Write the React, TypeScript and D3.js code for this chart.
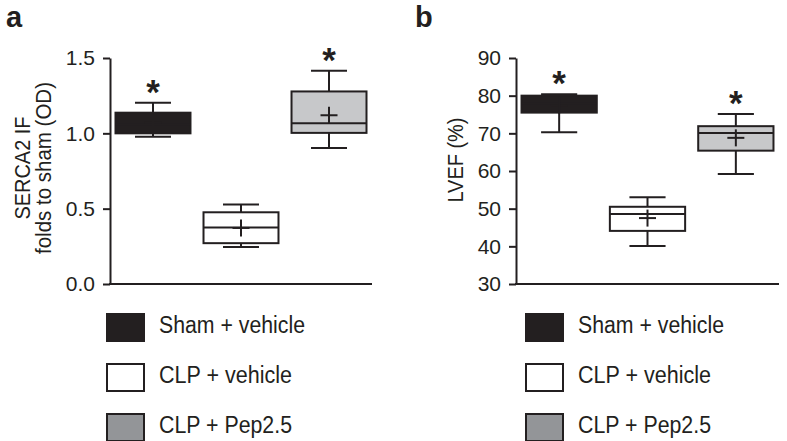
import React, { useEffect, useRef } from "react";
import * as d3 from "d3";

const groups = ["Sham + vehicle", "CLP + vehicle", "CLP + Pep2.5"];
const legendWidths = [146, 133, 133];
const significant = [true, false, true];

// Panel a: SERCA2 IF folds to sham (OD)
const sercaLow = [0.978, 0.245, 0.902];
const sercaQ1 = [1.0, 0.271, 1.003];
const sercaMedian = [1.06, 0.375, 1.067];
const sercaQ3 = [1.137, 0.476, 1.278];
const sercaHigh = [1.203, 0.527, 1.415];
const sercaMean = [1.07, 0.372, 1.12];
const sercaTicks = [0, 0.5, 1.0, 1.5];

// Panel b: LVEF (%)
const lvefLow = [70.3, 40.1, 59.2];
const lvefQ1 = [75.5, 44.1, 65.4];
const lvefMedian = [78, 48.6, 70.1];
const lvefQ3 = [80, 50.5, 71.9];
const lvefHigh = [80.4, 53.0, 75.1];
const lvefMean = [77.5, 47.5, 68.8];
const lvefTicks = [30, 40, 50, 60, 70, 80, 90];

const INK = "#231f20";
const boxFills = [INK, "#ffffff", "#c7c8ca"];
const legendFills = [INK, "#ffffff", "#939598"];
const FONT = "'Liberation Sans', Arial, Helvetica, sans-serif";

type PanelProps = {
  x0: number;
  x1: number;
  domain: [number, number];
  ticks: number[];
  fmt: (v: number) => string;
  low: number[];
  q1: number[];
  med: number[];
  q3: number[];
  high: number[];
  mean: number[];
};

const Y_TOP = 58;
const Y_BOTTOM = 284;

function Panel(p: PanelProps) {
  const axisRef = useRef<SVGGElement>(null);
  const y = d3.scaleLinear().domain(p.domain).range([Y_BOTTOM, Y_TOP]);
  const x = d3
    .scaleBand<string>()
    .domain(groups)
    .range([p.x0, p.x1])
    .paddingInner(0.148)
    .paddingOuter(0.0625);

  useEffect(() => {
    if (!axisRef.current) return;
    const g = d3.select(axisRef.current);
    g.selectAll("*").remove();
    const ax = d3
      .axisLeft(y)
      .tickValues(p.ticks)
      .tickFormat((d) => p.fmt(d as number))
      .tickSize(7)
      .tickSizeOuter(0)
      .tickPadding(8);
    g.call(ax as any);
    g.select(".domain").attr("stroke", INK).attr("stroke-width", 2);
    g.selectAll(".tick line").attr("stroke", INK).attr("stroke-width", 2);
    g.selectAll(".tick text")
      .attr("fill", INK)
      .attr("font-size", 21)
      .attr("font-family", FONT);
  }, []);

  const bw = x.bandwidth();
  const capW = bw * 0.48;
  const plus = 8.5;
  const astSize = 35;

  return (
    <g>
      <g ref={axisRef} transform={`translate(${p.x0},0)`} />
      <line
        x1={p.x0 - 1}
        x2={p.x1}
        y1={Y_BOTTOM}
        y2={Y_BOTTOM}
        stroke={INK}
        strokeWidth={2}
      />
      {groups.map((gname, i) => {
        const bx = x(gname) as number;
        const cx = bx + bw / 2;
        return (
          <g key={gname}>
            <line x1={cx} x2={cx} y1={y(p.high[i])} y2={y(p.q3[i])} stroke={INK} strokeWidth={2} />
            <line x1={cx} x2={cx} y1={y(p.q1[i])} y2={y(p.low[i])} stroke={INK} strokeWidth={2} />
            <line x1={cx - capW / 2} x2={cx + capW / 2} y1={y(p.high[i])} y2={y(p.high[i])} stroke={INK} strokeWidth={2} />
            <line x1={cx - capW / 2} x2={cx + capW / 2} y1={y(p.low[i])} y2={y(p.low[i])} stroke={INK} strokeWidth={2} />
            <rect
              x={bx}
              y={y(p.q3[i])}
              width={bw}
              height={y(p.q1[i]) - y(p.q3[i])}
              fill={boxFills[i]}
              stroke={INK}
              strokeWidth={2}
            />
            <line x1={bx} x2={bx + bw} y1={y(p.med[i])} y2={y(p.med[i])} stroke={INK} strokeWidth={2} />
            <line x1={cx - plus} x2={cx + plus} y1={y(p.mean[i])} y2={y(p.mean[i])} stroke={INK} strokeWidth={2} />
            <line x1={cx} x2={cx} y1={y(p.mean[i]) - plus} y2={y(p.mean[i]) + plus} stroke={INK} strokeWidth={2} />
            {significant[i] && (
              <text
                x={cx}
                y={y(p.high[i]) - 18 + astSize * 0.55}
                textAnchor="middle"
                fontSize={astSize}
                fontWeight="bold"
                fontFamily={FONT}
                fill={INK}
              >
                *
              </text>
            )}
          </g>
        );
      })}
    </g>
  );
}

function Legend({ sx, tx }: { sx: number; tx: number }) {
  const rowTops = [314, 364, 414];
  return (
    <g>
      {groups.map((gname, i) => (
        <g key={gname}>
          <rect
            x={sx}
            y={rowTops[i]}
            width={37}
            height={27}
            fill={legendFills[i]}
            stroke={INK}
            strokeWidth={2}
          />
          <text
            x={tx}
            y={rowTops[i] + 19}
            fontSize={23}
            fontFamily={FONT}
            fill={INK}
            textLength={legendWidths[i]}
            lengthAdjust="spacingAndGlyphs"
          >
            {gname}
          </text>
        </g>
      ))}
    </g>
  );
}

export default function App() {
  return (
    <svg
      width={787}
      height={441}
      style={{ position: "absolute", left: 0, top: 0, background: "#fff" }}
    >
      <rect width={787} height={441} fill="#fff" />
      <text x={6} y={26.5} fontSize={29} fontWeight="bold" fontFamily={FONT} fill={INK}>
        a
      </text>
      <text x={415} y={26.5} fontSize={29} fontWeight="bold" fontFamily={FONT} fill={INK}>
        b
      </text>

      <text
        transform="translate(30,168) rotate(-90)"
        textAnchor="middle"
        fontSize={21.5}
        fontFamily={FONT}
        fill={INK}
        textLength={103}
        lengthAdjust="spacingAndGlyphs"
      >
        SERCA2 IF
      </text>
      <text
        transform="translate(50.5,168) rotate(-90)"
        textAnchor="middle"
        fontSize={21.5}
        fontFamily={FONT}
        fill={INK}
        textLength={172}
        lengthAdjust="spacingAndGlyphs"
      >
        folds to sham (OD)
      </text>
      <text
        transform="translate(463,160) rotate(-90)"
        textAnchor="middle"
        fontSize={21.5}
        fontFamily={FONT}
        fill={INK}
        textLength={85}
        lengthAdjust="spacingAndGlyphs"
      >
        LVEF (%)
      </text>

      <Panel
        x0={110}
        x1={372}
        domain={[0, 1.5]}
        ticks={sercaTicks}
        fmt={d3.format(".1f")}
        low={sercaLow}
        q1={sercaQ1}
        med={sercaMedian}
        q3={sercaQ3}
        high={sercaHigh}
        mean={sercaMean}
      />
      <Panel
        x0={516}
        x1={779}
        domain={[30, 90]}
        ticks={lvefTicks}
        fmt={d3.format("d")}
        low={lvefLow}
        q1={lvefQ1}
        med={lvefMedian}
        q3={lvefQ3}
        high={lvefHigh}
        mean={lvefMean}
      />

      <Legend sx={107} tx={159} />
      <Legend sx={526} tx={578} />
    </svg>
  );
}
